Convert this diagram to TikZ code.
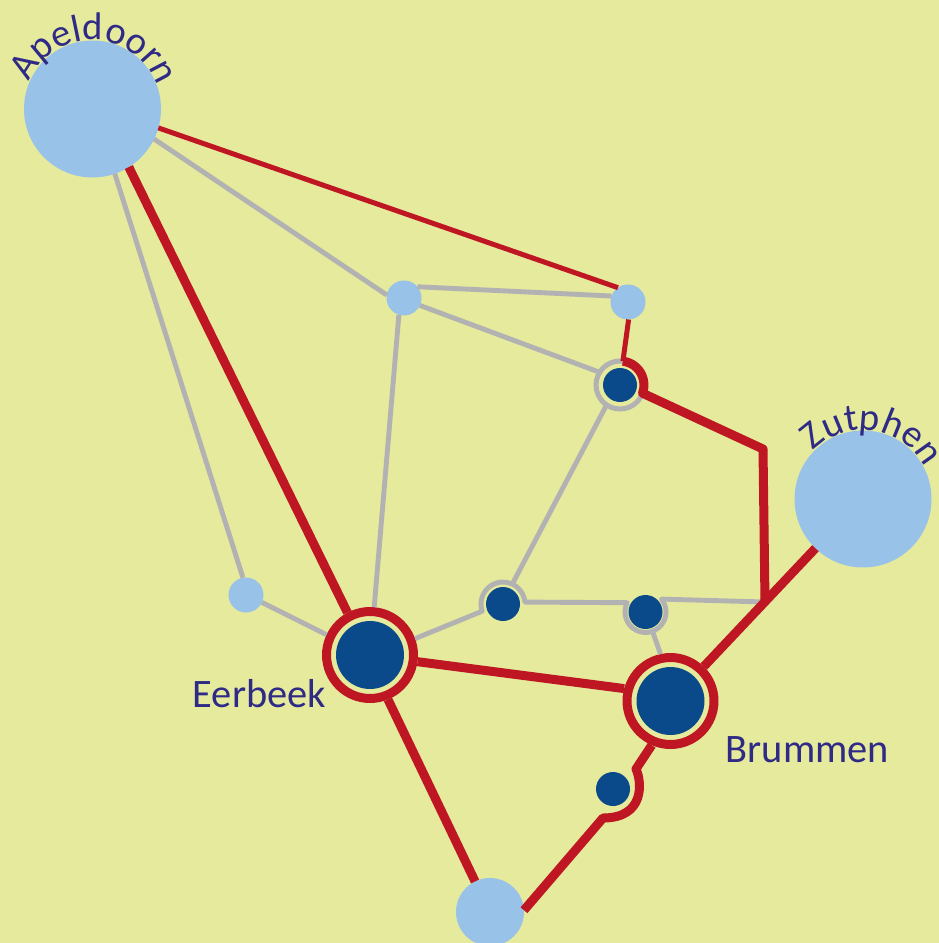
\documentclass[tikz,border=0pt]{standalone}
\usepackage{fontspec}
\setmainfont{Carlito}
\usetikzlibrary{decorations.text}
\definecolor{meadow}{RGB}{230,234,157}
\definecolor{skyblue}{RGB}{152,194,232}
\definecolor{deepblue}{RGB}{10,74,138}
\definecolor{railred}{RGB}{190,22,34}
\definecolor{roadgray}{RGB}{178,178,178}
\definecolor{inkblue}{RGB}{46,42,134}
\newcommand{\placefont}{\fontsize{23}{27}\selectfont}
\newcommand{\roundfont}{\fontsize{22}{26}\selectfont}
\tikzset{
    x=0.02cm, y=-0.02cm,
    }

\begin{document}
\begin{tikzpicture}[
bignode/.style={circle, fill=skyblue, inner sep=0pt, outer sep=0pt, minimum size=2.74cm},
lightnode/.style={circle, fill=skyblue, inner sep=0pt, outer sep=0pt, minimum size=0.7cm},
darknode/.style={circle, fill=deepblue, inner sep=0pt, outer sep=0pt, minimum size=0.68cm},
hubnode/.style={circle, fill=deepblue, inner sep=0pt, outer sep=0pt, minimum size=1.36cm},
hubring/.style={circle, draw=railred, fill=meadow, line width=0.18cm, inner sep=0pt, minimum size=1.74cm},
ringspot/.style={circle, inner sep=0pt, outer sep=0pt},
road/.style={draw=roadgray, line width=0.098cm, line join=round},
railthin/.style={draw=railred, line width=0.1cm},
railthick/.style={draw=railred, line width=0.18cm, line join=round},
placelabel/.style={text=inkblue, font=\placefont, inner sep=0pt},
]
\useasboundingbox (0,0) rectangle (939,943);
\fill[meadow] (0,0) rectangle (939,943);

\node[bignode] (apeldoorn) at (92.5,109) {};
\node[bignode] (zutphen) at (863,499) {};
\node[bignode, minimum size=1.36cm] (south) at (490,912) {};
\node[lightnode] (mida) at (404,298) {};
\node[lightnode] (midb) at (628,302) {};
\node[lightnode] (west) at (246,595) {};
\node[hubring] (eerbeekring) at (370,655) {};
\node[hubnode] (eerbeek) at (370,655) {};
\node[hubring] (brummenring) at (670.5,701) {};
\node[hubnode] (brummen) at (670.5,701) {};
\node[ringspot, draw=roadgray, line width=0.1cm, minimum size=0.96cm] (ringc) at (620,385) {};
\node[ringspot, minimum size=0.88cm] (ringd) at (503,604) {};
\node[ringspot, minimum size=0.82cm] (ringe) at (645.5,612) {};
\node[darknode] (stopc) at (620,385) {};
\node[darknode] (stopd) at (503,604) {};
\node[darknode] (stope) at (645.5,612) {};
\node[darknode] (stopf) at (613,789) {};

\coordinate (elbow) at (763,449);
\coordinate (junction) at (765,602);
\coordinate (bend) at (636,769);
\coordinate (bendb) at (603,818);

\node[placelabel] (eerbeeklabel) at (259.5,694) {Eerbeek};
\node[placelabel] (brummenlabel) at (807.5,750) {Brummen};

% grey roads
\draw[road] (apeldoorn.-71) -- (west.100);
\draw[road] (apeldoorn.-26) -- (mida.170);
\draw[road] (west.-25) -- (eerbeekring.155);
\draw[road] (mida.40) -- (midb.160);
\draw[road] (mida.-25) -- (ringc.148);
\draw[road] (mida.-107) -- (eerbeekring.85);
\draw[road] (ringc.-124) -- (ringd.65);
\draw[road] (ringe.-70) -- (brummenring.102);
\draw[road] (eerbeekring.20) -- (ringd.199) arc[start angle=199, end angle=5, radius=0.44cm]
    -- (ringe.153) arc[start angle=153, end angle=399, radius=0.41cm] -- (junction);

% red lines
\draw[railthin] (apeldoorn.-16) -- (midb.125);
\draw[railthin] (midb.-88) -- (ringc.83);
\draw[railthick] (ringc.83) arc[start angle=83, end angle=-20, radius=0.48cm] -- (elbow) -- (junction);
\draw[railthick] (apeldoorn.-58) -- (eerbeekring.118);
\draw[railthick] (zutphen.-134) -- (brummenring.46);
\draw[railthick] (eerbeekring.-8) -- (brummenring.165);
\draw[railthick] (eerbeekring.-68) -- (south.116);
\draw[railthick] (brummenring.-113) -- (bend) .. controls (642,782) and (645,818) .. (bendb) -- (south.3);

% names round the big circles
\path[decorate, decoration={text along path, text align=center, text={|\color{inkblue}\roundfont|Apeldoorn}}]
    ([shift={(154:1.38cm)}]apeldoorn.center) arc[start angle=154, end angle=22, radius=1.38cm];
\path[decorate, decoration={text along path, text align=center, text={|\color{inkblue}\roundfont|Zutphen}}]
    ([shift={(134:1.38cm)}]zutphen.center) arc[start angle=134, end angle=29, radius=1.38cm];

\end{tikzpicture}
\end{document}
